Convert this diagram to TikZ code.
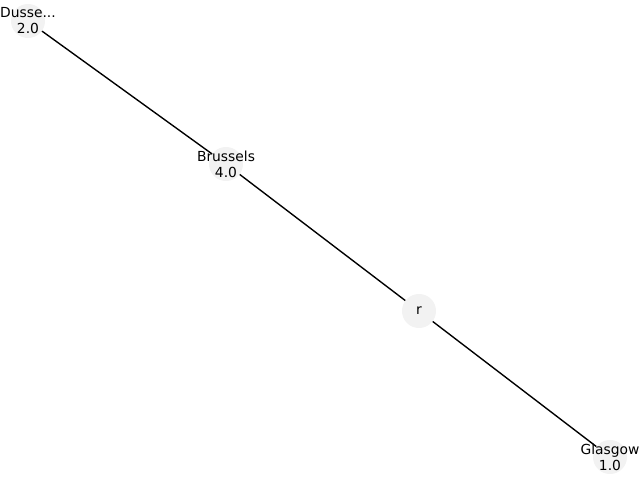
\documentclass[tikz,border=0pt]{standalone}
\usepackage{fontspec}
\setmainfont{DejaVu Sans}
\definecolor{node_gray}{RGB}{242, 242, 242}

\begin{document}
\begin{tikzpicture}[
    x=0.01in, y=-0.01in,
    font=\fontsize{10}{11.5}\selectfont,
    % Styles
    city_node/.style={
        circle, fill=node_gray, minimum size=0.34in, inner sep=0pt
    },
    city_text/.style={
        align=center, inner sep=0pt, text=black
    },
    link/.style={
        line width=1pt, black
    }
]
\useasboundingbox (0,0) rectangle (640,480);

% 1. Nodes
\node[city_node] (dus) at (28,21) {};
\node[city_node] (bru) at (226,164) {};
\node[city_node] (r) at (419,311) {};
\node[city_node] (gla) at (610,457) {};

% 2. Connections
\draw[link] (dus) -- (bru);
\draw[link] (bru) -- (r);
\draw[link] (r) -- (gla);

% 3. Labels
\node[city_text] (dus_lbl) at (dus) {Dusse...\\2.0};
\node[city_text] (bru_lbl) at (bru) {Brussels\\4.0};
\node[city_text] (r_lbl) at (r) {r};
\node[city_text] (gla_lbl) at (gla) {Glasgow\\1.0};

\end{tikzpicture}
\end{document}
